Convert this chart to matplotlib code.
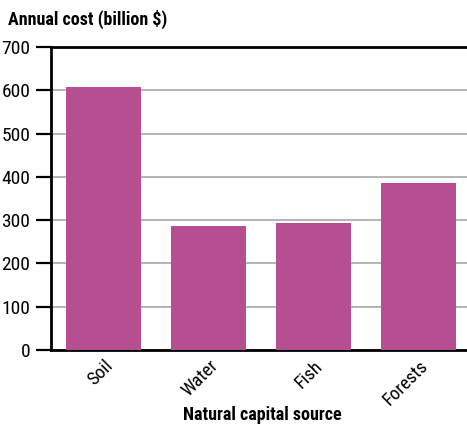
import matplotlib.pyplot as plt

sources = ['Soil', 'Water', 'Fish', 'Forests']
annual_cost = [607, 286, 293, 386]
y_ticks = [0, 100, 200, 300, 400, 500, 600, 700]

plt.rcParams['font.family'] = ['Roboto Condensed', 'Open Sans Condensed',
                               'Liberation Sans Narrow', 'Lato', 'DejaVu Sans']

fig = plt.figure(figsize=(4.67, 4.26), dpi=100)
ax = fig.add_axes([51 / 467, 76 / 426, 416 / 467, 303 / 426])

x = range(len(sources))
ax.bar(x, annual_cost, width=0.72, color='#b64f91', zorder=3)

ax.set_ylim(0, 700)
ax.set_xlim(-0.5, 3.46)
ax.set_yticks(y_ticks)
ax.yaxis.grid(True, color='#a8a8a8', linewidth=1.2, zorder=0)
ax.tick_params(axis='y', length=11, width=1.6, labelsize=14, pad=4)
ax.tick_params(axis='x', length=0, labelsize=13.5, pad=5)
ax.set_xticks(list(x))
ax.set_xticklabels(sources, rotation=45, ha='right', rotation_mode='anchor')

for side in ['left', 'bottom', 'top']:
    ax.spines[side].set_color('black')
    ax.spines[side].set_linewidth(2)
ax.spines['right'].set_visible(False)

fig.text(262 / 467, 1 - 420 / 426, 'Natural capital source', fontsize=13,
         fontweight='bold', ha='center', va='baseline')
fig.text(8 / 467, 1 - 25 / 426, 'Annual cost (billion $)', fontsize=13,
         fontweight='bold', ha='left', va='baseline')

fig.savefig('out.png', dpi=100)
